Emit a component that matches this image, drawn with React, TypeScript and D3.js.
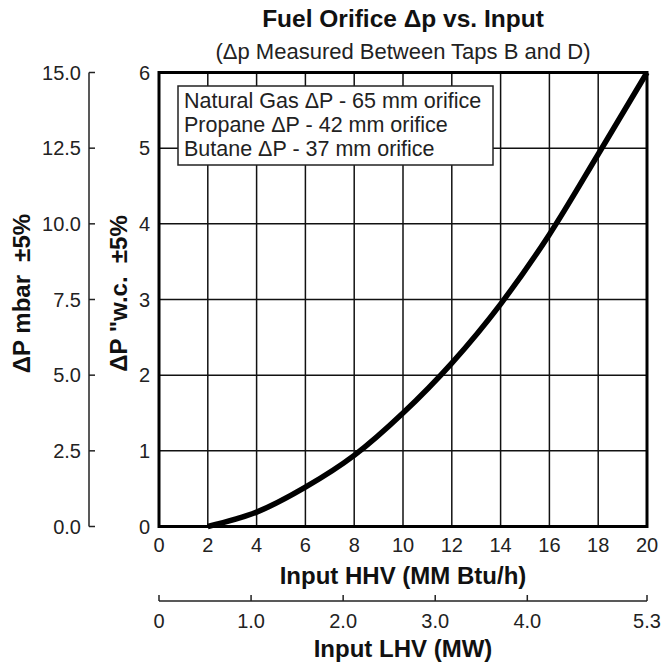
import React from "react";
import * as d3 from "d3";

const hhvTicks = [0, 2, 4, 6, 8, 10, 12, 14, 16, 18, 20];
const wcTicks = [0, 1, 2, 3, 4, 5, 6];
const mbarTicks = [0, 2.5, 5, 7.5, 10, 12.5, 15];
const lhvTicks = [0, 1, 2, 3, 4, 5.3];
const lhvLabels = ["0", "1.0", "2.0", "3.0", "4.0", "5.3"];

const curveHHV = [2, 4, 6, 8, 10, 12, 14, 16, 18, 20];
const curveWC = [0, 0.19, 0.52, 0.94, 1.5, 2.16, 2.94, 3.86, 4.92, 6];

const legendLines = [
  "Natural Gas \u0394P - 65 mm orifice",
  "Propane \u0394P - 42 mm orifice",
  "Butane \u0394P - 37 mm orifice",
];

const FONT = "'Liberation Sans', Arial, Helvetica, sans-serif";

export default function App() {
  const W = 662, H = 664;
  const L = 159, R = 647, T = 72.5, B = 526.5;
  const x = d3.scaleLinear().domain([0, 20]).range([L, R]);
  const y = d3.scaleLinear().domain([0, 6]).range([B, T]);
  const yM = d3.scaleLinear().domain([0, 15]).range([B, T]);
  const xMW = d3.scaleLinear().domain([0, 5.3]).range([L, R]);
  const line = d3
    .line<number>()
    .x((_, i) => x(curveHHV[i]))
    .y((d) => y(d))
    .curve(d3.curveMonotoneX);
  const cx = (L + R) / 2;
  const lhvY = 601;
  const leftAxisX = 89;
  const tickFs = 20;

  return (
    <svg width={W} height={H} style={{ position: "absolute", left: 0, top: 0, background: "#fff" }} fontFamily={FONT}>
      <rect x={0} y={0} width={W} height={H} fill="#fff" />
      <text x={cx} y={27} textAnchor="middle" fontSize={24.5} fontWeight="bold" fill="#111">
        Fuel Orifice {"\u0394"}p vs. Input
      </text>
      <text x={cx} y={59} textAnchor="middle" fontSize={22} fill="#222">
        ({"\u0394"}p Measured Between Taps B and D)
      </text>

      {/* grid */}
      {hhvTicks.slice(1, -1).map((t) => (
        <line key={"gx" + t} x1={x(t)} x2={x(t)} y1={T} y2={B} stroke="#111" strokeWidth={1.5} />
      ))}
      {wcTicks.slice(1, -1).map((t) => (
        <line key={"gy" + t} x1={L} x2={R} y1={y(t)} y2={y(t)} stroke="#111" strokeWidth={1.5} />
      ))}

      {/* legend */}
      <rect x={178} y={86} width={315} height={79} fill="#fff" stroke="#222" strokeWidth={1.5} />
      {legendLines.map((s, i) => (
        <text key={s} x={184} y={108 + i * 24} fontSize={21.5} fill="#222">
          {s}
        </text>
      ))}

      {/* curve */}
      <path d={line(curveWC) || ""} fill="none" stroke="#000" strokeWidth={5.5} />

      {/* frame */}
      <rect x={L} y={T} width={R - L} height={B - T} fill="none" stroke="#000" strokeWidth={3} />

      {/* right (w.c.) labels */}
      {wcTicks.map((t) => (
        <text key={"wl" + t} x={150} y={y(t) + 7} textAnchor="end" fontSize={tickFs} fill="#222">
          {t}
        </text>
      ))}

      {/* left mbar axis */}
      <line x1={leftAxisX} x2={leftAxisX} y1={T} y2={B} stroke="#222" strokeWidth={1.5} />
      {mbarTicks.map((t) => (
        <g key={"mb" + t}>
          <line x1={leftAxisX} x2={leftAxisX + 6} y1={yM(t)} y2={yM(t)} stroke="#222" strokeWidth={1.5} />
          <text x={81} y={yM(t) + 7} textAnchor="end" fontSize={tickFs} fill="#222">
            {t.toFixed(1)}
          </text>
        </g>
      ))}

      {/* HHV labels */}
      {hhvTicks.map((t) => (
        <text key={"hx" + t} x={x(t)} y={552} textAnchor="middle" fontSize={tickFs} fill="#222">
          {t}
        </text>
      ))}
      <text x={cx} y={584} textAnchor="middle" fontSize={24} fontWeight="bold" fill="#111">
        Input HHV (MM Btu/h)
      </text>

      {/* LHV axis */}
      <line x1={L} x2={R} y1={lhvY} y2={lhvY} stroke="#222" strokeWidth={1.5} />
      {lhvTicks.map((t, i) => (
        <g key={"lv" + t}>
          <line x1={xMW(t)} x2={xMW(t)} y1={lhvY} y2={lhvY - 6} stroke="#222" strokeWidth={1.5} />
          <text x={xMW(t)} y={628} textAnchor="middle" fontSize={tickFs} fill="#222">
            {lhvLabels[i]}
          </text>
        </g>
      ))}
      <text x={cx} y={657} textAnchor="middle" fontSize={24} fontWeight="bold" fill="#111">
        Input LHV (MW)
      </text>

      {/* y titles */}
      <text transform={`translate(30,${(T + B) / 2 - 6}) rotate(-90)`} textAnchor="middle" fontSize={24} fontWeight="bold" fill="#111" style={{ whiteSpace: "pre" }}>
        {"\u0394P mbar  \u00b15%"}
      </text>
      <text transform={`translate(127,${(T + B) / 2 - 6}) rotate(-90)`} textAnchor="middle" fontSize={24} fontWeight="bold" fill="#111" style={{ whiteSpace: "pre" }}>
        {"\u0394P \"w.c.  \u00b15%"}
      </text>
    </svg>
  );
}
